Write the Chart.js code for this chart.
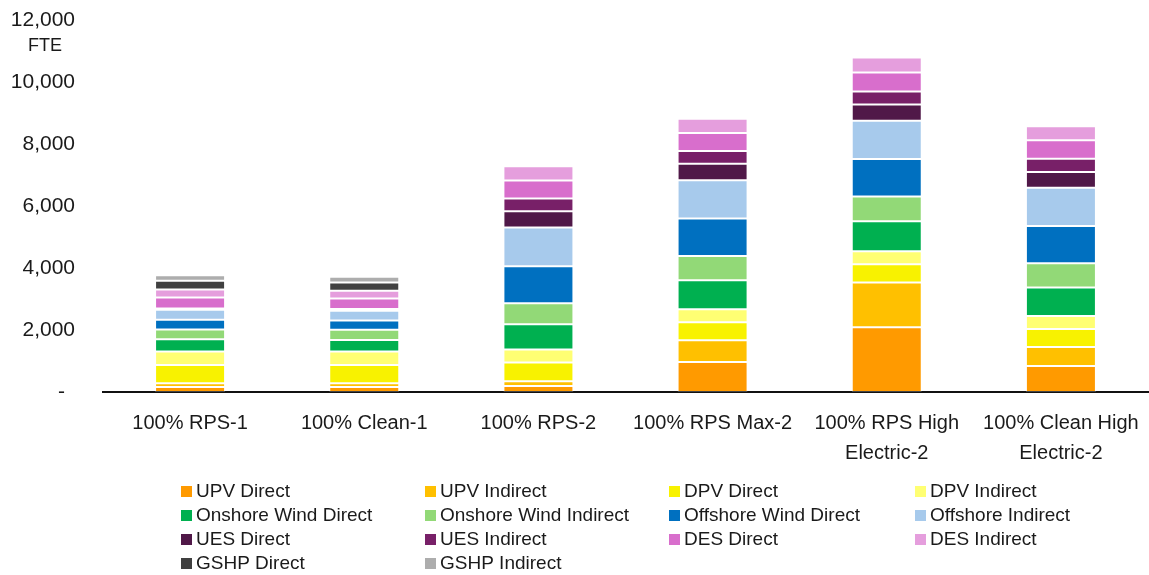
<!DOCTYPE html>
<html>
<head>
<meta charset="utf-8">
<title>Employment by technology and scenario</title>
<script src="https://cdn.jsdelivr.net/npm/chart.js@4/dist/chart.umd.min.js"></script>
<style>
  html, body { margin: 0; padding: 0; background: #ffffff; }
  #wrap { position: relative; width: 1149px; height: 575px; }
</style>
</head>
<body>
<div id="wrap"><canvas id="chart" width="1149" height="575"></canvas></div>
<script>
// Scenario names shown along the x axis (two-line labels where they wrap)
const categories = [
  ["100% RPS-1"],
  ["100% Clean-1"],
  ["100% RPS-2"],
  ["100% RPS Max-2"],
  ["100% RPS High", "Electric-2"],
  ["100% Clean High", "Electric-2"]
];

// Jobs (FTE) per technology, one value per scenario
const upvDirect        = [160, 160, 190, 970, 2090, 840];
const upvIndirect      = [120, 120, 160, 700, 1440, 610];
const dpvDirect        = [590, 590, 600, 580, 590, 580];
const dpvIndirect      = [440, 440, 420, 420, 420, 420];
const onshoreDirect    = [390, 365, 815, 935, 965, 925];
const onshoreIndirect  = [320, 335, 675, 785, 805, 775];
const offshoreDirect   = [310, 300, 1200, 1205, 1205, 1205];
const offshoreIndirect = [320, 310, 1245, 1235, 1235, 1235];
const uesDirect        = [20, 35, 525, 535, 525, 505];
const uesIndirect      = [20, 20, 410, 410, 420, 430];
const desDirect        = [355, 345, 580, 580, 610, 600];
const desIndirect      = [260, 245, 460, 460, 485, 450];
const gshpDirect       = [280, 270, 0, 0, 0, 0];
const gshpIndirect     = [185, 185, 0, 0, 0, 0];

// Y axis tick values
const yTicks = [0, 2000, 4000, 6000, 8000, 10000, 12000];
const yUnit = "FTE";

const series = [
  { label: "UPV Direct",             data: upvDirect,        color: "#FF9A00" },
  { label: "UPV Indirect",           data: upvIndirect,      color: "#FFC000" },
  { label: "DPV Direct",             data: dpvDirect,        color: "#F8F200" },
  { label: "DPV Indirect",           data: dpvIndirect,      color: "#FFFF73" },
  { label: "Onshore Wind Direct",    data: onshoreDirect,    color: "#00B050" },
  { label: "Onshore Wind Indirect",  data: onshoreIndirect,  color: "#92D977" },
  { label: "Offshore Wind Direct",   data: offshoreDirect,   color: "#0070C0" },
  { label: "Offshore Indirect",      data: offshoreIndirect, color: "#A7CAEC" },
  { label: "UES Direct",             data: uesDirect,        color: "#501848" },
  { label: "UES Indirect",           data: uesIndirect,      color: "#782068" },
  { label: "DES Direct",             data: desDirect,        color: "#D86ECC" },
  { label: "DES Indirect",           data: desIndirect,      color: "#E59EDD" },
  { label: "GSHP Direct",            data: gshpDirect,       color: "#404040" },
  { label: "GSHP Indirect",          data: gshpIndirect,     color: "#ADADAD" }
];

const FONT = "'Liberation Sans', Arial, sans-serif";
const TEXT = "#1a1a1a";

// Unit caption under the top tick, plus a four-column legend below the axis
const extras = {
  id: "extras",
  afterDraw(chart) {
    const ctx = chart.ctx;
    const yScale = chart.scales.y;
    ctx.save();
    ctx.fillStyle = TEXT;
    ctx.font = "18px " + FONT;
    ctx.textAlign = "center";
    ctx.textBaseline = "middle";
    ctx.fillText(yUnit, 45, yScale.getPixelForValue(12000) + 26);

    const colX = [181, 425, 669, 915];
    const rowY = [492, 516, 540, 564];
    ctx.textAlign = "left";
    ctx.font = "19px " + FONT;
    chart.data.datasets.forEach((ds, i) => {
      const x = colX[i % 4];
      const y = rowY[Math.floor(i / 4)];
      ctx.fillStyle = ds.backgroundColor;
      ctx.fillRect(x, y - 6, 11, 11);
      ctx.fillStyle = TEXT;
      ctx.fillText(ds.label, x + 15, y);
    });
    ctx.restore();
  }
};

new Chart(document.getElementById("chart"), {
  type: "bar",
  data: {
    labels: categories,
    datasets: series.map(s => ({
      label: s.label,
      data: s.data,
      backgroundColor: s.color,
      borderColor: "rgba(255,255,255,0.22)",
      borderWidth: 1,
      borderSkipped: false,
      barPercentage: 0.402,
      categoryPercentage: 1.0
    }))
  },
  options: {
    responsive: false,
    animation: false,
    devicePixelRatio: 1,
    layout: { padding: { top: 20, right: 1, bottom: 0, left: 0 } },
    plugins: {
      legend: { display: false },
      tooltip: { enabled: false }
    },
    scales: {
      x: {
        stacked: true,
        grid: { display: false },
        border: { display: true, color: "#111111", width: 2 },
        ticks: {
          color: TEXT,
          font: { family: FONT, size: 20, lineHeight: 1.5 },
          padding: 8,
          maxRotation: 0,
          autoSkip: false
        },
        afterFit(scale) { scale.height = 183; }
      },
      y: {
        stacked: true,
        min: 0,
        max: 12000,
        grid: { display: false },
        border: { display: false },
        afterBuildTicks(scale) { scale.ticks = yTicks.map(v => ({ value: v })); },
        ticks: {
          color: TEXT,
          font: { family: FONT, size: 21 },
          padding: 20,
          callback: v => (v === 0 ? "-\u2009 " : v.toLocaleString("en-US"))
        },
        afterFit(scale) {
          scale.width = 103;
          scale.paddingTop = 0;
          scale.paddingBottom = 0;
        }
      }
    }
  },
  plugins: [extras]
});
</script>
</body>
</html>
